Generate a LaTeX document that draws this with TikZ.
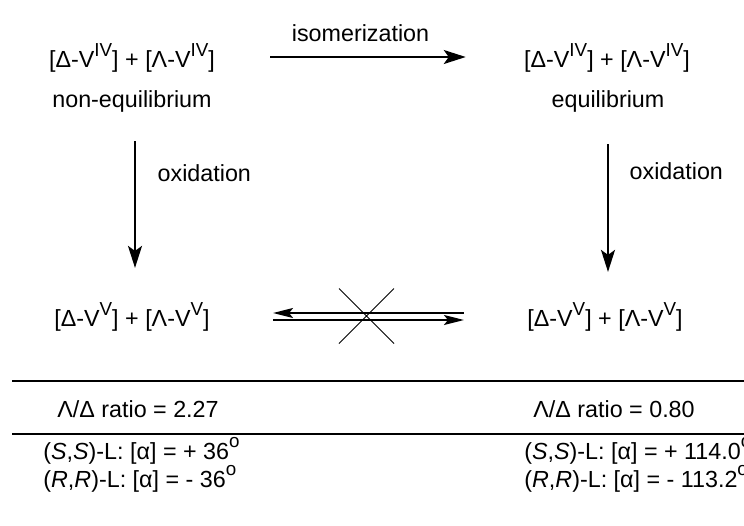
\documentclass[tikz,border=0pt]{standalone}
\usepackage{fontspec}
\setmainfont{Liberation Sans}
\usepackage{tikz}
\usetikzlibrary{arrows.meta,positioning,shapes.misc,calc}

\newcommand{\sups}[1]{\raisebox{0.5em}{\fontsize{9.4}{10}\selectfont #1}}

\begin{document}
\begin{tikzpicture}[
    x=0.5pt, y=-0.5pt,
    every node/.style={font=\fontsize{11.65}{14}\selectfont},
    chem/.style={inner sep=0pt},
    lbl/.style={inner sep=0pt},
    rxn/.style={line width=1pt, -{Stealth[length=11pt, width=7pt, inset=2.5pt]}},
    eqa/.style={line width=1pt, -{Stealth[length=10pt, width=5pt, inset=2pt]}},
    rule/.style={line width=1pt}
]
    \useasboundingbox (0,0) rectangle (744,525);

    % Top row
    \node[chem] (tl) at (132,58) {[Δ-V\sups{IV}] + [Λ-V\sups{IV}]};
    \node[chem] (tr) at (607,58) {[Δ-V\sups{IV}] + [Λ-V\sups{IV}]};
    \node[lbl] (tlnote) at (132,101) {non-equilibrium};
    \node[lbl] (trnote) at (608,101) {equilibrium};

    % Bottom row
    \node[chem] (bl) at (132,317) {[Δ-V\sups{V}] + [Λ-V\sups{V}]};
    \node[chem] (br) at (605,317) {[Δ-V\sups{V}] + [Λ-V\sups{V}]};

    % Isomerization
    \draw[rxn, shorten <=27.5pt, shorten >=29pt] ([yshift=0.5pt]tl.east) -- ([yshift=0.5pt]tr.west)
        node[midway, above=4pt, xshift=-4.5pt] {isomerization};

    % Oxidations
    \draw[rxn, shorten <=14.5pt, shorten >=17pt] ([xshift=1.5pt]tlnote.south) -- ([xshift=1.5pt]tlnote.south |- bl.north)
        node[pos=0.32, right=7.5pt] {oxidation};
    \draw[rxn, shorten <=16pt, shorten >=15pt] (trnote.south) -- (trnote.south |- br.north)
        node[pos=0.31, right=7pt] {oxidation};

    % No interconversion
    \draw[eqa, shorten <=31.5pt, shorten >=31.5pt] ([yshift=2pt]br.west) -- ([yshift=2pt]bl.east);
    \draw[eqa, shorten <=31.5pt, shorten >=31.5pt] ([yshift=-1.5pt]bl.east) -- ([yshift=-1.5pt]br.west);
    \node[cross out, draw, line width=0.5pt, minimum width=27pt, minimum height=27pt, inner sep=0pt]
        (nox) at ($(bl.east)!0.5!(br.west)+(-2,-1)$) {};

    % Table
    \coordinate (r1a) at (12,381);
    \coordinate (r1b) at (744,381);
    \coordinate (r2a) at (12,434);
    \coordinate (r2b) at (744,434);
    \draw[rule] (r1a) -- (r1b);
    \draw[rule] (r2a) -- (r2b);

    \node[lbl] (ratl) at (138,409) {Λ/Δ ratio = 2.27};
    \node[lbl] (ratr) at (614,409) {Λ/Δ ratio = 0.80};

    \node[lbl, anchor=west] (ssl) at (43,451) {(\textit{S},\textit{S})-L: [α] = + 36\sups{o}};
    \node[lbl, anchor=west] (rrl) at (43,479) {(\textit{R},\textit{R})-L: [α] = - 36\sups{o}};
    \node[lbl, anchor=west] (ssr) at (524,451) {(\textit{S},\textit{S})-L: [α] = + 114.0\sups{o}};
    \node[lbl, anchor=west] (rrr) at (524,479) {(\textit{R},\textit{R})-L: [α] = - 113.2\sups{o}};
\end{tikzpicture}
\end{document}
